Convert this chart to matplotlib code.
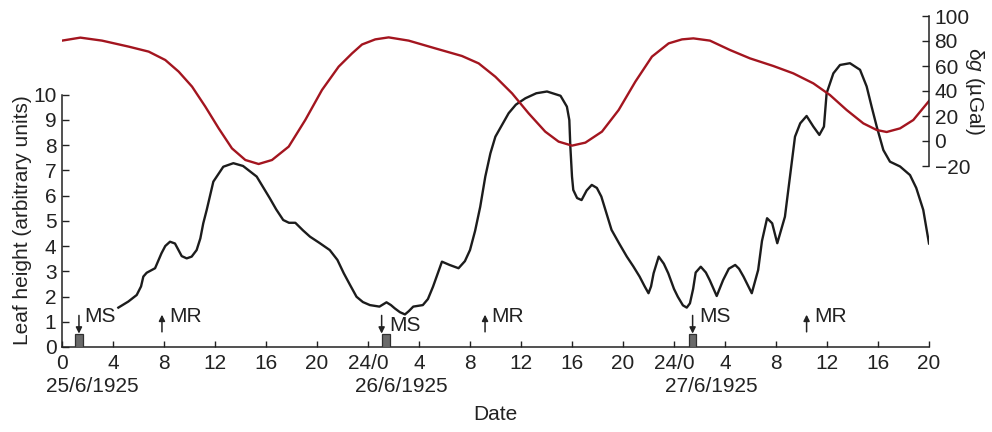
import matplotlib
matplotlib.use("Agg")
import matplotlib.pyplot as plt

plt.rcParams['font.family'] = ['Liberation Sans', 'DejaVu Sans']
plt.rcParams['mathtext.fontset'] = 'custom'
plt.rcParams['mathtext.it'] = 'Liberation Sans:italic'
plt.rcParams['mathtext.rm'] = 'Liberation Sans'

# time axis: hours since 00:00 on 25/6/1925
leaf_hours = [4.42, 5.2, 5.86, 6.2, 6.38, 6.64, 7.3, 7.8, 8.1, 8.47, 8.86, 9.39, 9.78, 10.17,
              10.56, 10.85, 11.08, 11.35, 11.87, 12.65, 13.44, 14.2, 15.27, 16.3, 16.8, 17.35,
              17.8, 18.3, 18.9, 19.45, 20.2, 21.0, 21.6, 22.1, 22.6, 23.1, 23.6, 24.15, 24.9,
              25.45, 25.8, 26.1, 26.5, 26.9, 27.2, 27.55, 28.3, 28.7, 29.1, 29.5, 29.8, 30.4,
              31.1, 31.6, 32.0, 32.4, 32.8, 33.2, 33.6, 33.99, 35.03, 35.6, 36.34, 37.2, 38.04,
              39.1, 39.6, 39.79, 39.87, 40.0, 40.1, 40.4, 40.75, 41.15, 41.55, 41.95, 42.3,
              42.7, 43.1, 43.7, 44.3, 44.8, 45.3, 45.7, 46.0, 46.2, 46.4, 46.8, 47.2, 47.55,
              48.0, 48.3, 48.7, 49.0, 49.25, 49.5, 49.7, 50.1, 50.5, 50.8, 51.35, 51.85, 52.3,
              52.8, 53.1, 53.45, 54.1, 54.6, 54.9, 55.3, 55.7, 56.1, 56.7, 57.1, 57.49, 57.9,
              58.4, 58.93, 59.4, 59.76, 59.97, 60.5, 61.02, 61.8, 62.59, 63.11, 63.5, 63.9,
              64.42, 64.94, 65.73, 66.51, 67.0, 67.55, 68.0]
leaf_height = [1.56, 1.8, 2.06, 2.4, 2.79, 2.94, 3.12, 3.71, 4.0, 4.17, 4.1, 3.6, 3.51, 3.58,
               3.84, 4.3, 4.9, 5.43, 6.55, 7.14, 7.28, 7.17, 6.75, 5.89, 5.45, 5.03,
               4.92, 4.92, 4.62, 4.37, 4.12, 3.84, 3.45, 2.92, 2.45, 1.99, 1.78, 1.66, 1.6,
               1.77, 1.66, 1.53, 1.38, 1.29, 1.42, 1.6, 1.66, 1.9, 2.39, 2.95, 3.38, 3.25,
               3.12, 3.4, 3.84, 4.6, 5.55, 6.75, 7.67, 8.33, 9.26, 9.6, 9.85, 10.05, 10.12,
               9.95, 9.52, 8.99, 7.94, 6.75, 6.22, 5.9, 5.82, 6.2, 6.42, 6.3, 5.96,
               5.3, 4.64, 4.1, 3.58, 3.2, 2.79, 2.4, 2.13, 2.4, 2.92, 3.58, 3.3, 2.92,
               2.3, 1.99, 1.65, 1.56, 1.73, 2.3, 2.95, 3.18, 2.95, 2.65, 2.02, 2.65, 3.1,
               3.25, 3.1, 2.79, 2.13, 3.05, 4.2, 5.1, 4.9, 4.11, 5.16, 6.75, 8.33, 8.86,
               9.15, 8.73, 8.4, 8.73, 10.05, 10.84, 11.17, 11.24, 10.98, 10.32, 9.52, 8.73,
               7.8, 7.34, 7.15, 6.81, 6.3, 5.43, 4.1]

grav_hours = [0, 1.44, 3.14, 5.23, 6.8, 8.1, 9.15, 10.2, 11.24, 12.29, 13.33, 14.38, 15.42,
              16.47, 17.78, 19.08, 20.39, 21.7, 22.75, 23.53, 24.57, 25.62, 27.19, 29.28,
              31.37, 32.68, 33.99, 35.3, 36.6, 37.9, 38.95, 40.0, 41.05, 42.35, 43.66, 44.97,
              46.27, 47.58, 48.63, 49.52, 50.82, 52.39, 53.96, 55.79, 57.36, 58.93, 60.23,
              61.54, 62.85, 63.9, 64.68, 65.73, 66.77, 68.0]
delta_g = [80.3, 82.7, 80.3, 75.5, 71.5, 64.8, 55.5, 43.5, 27.5, 10.1, -5.9, -15.2, -18.4,
           -15.2, -4.5, 16.8, 40.8, 59.5, 70.1, 77.2, 81.3, 82.9, 80.3, 74.1,
           68.0, 62.1, 51.4, 38.1, 22.1, 7.5, -0.5, -3.7, -1.3, 7.5, 24.8, 47.5,
           67.5, 78.1, 81.3, 82.1, 80.3, 72.8, 66.1, 60.0, 54.1, 46.1, 36.8,
           24.8, 14.1, 8.8, 7.2, 10.1, 16.8, 32.0]

# moon set (MS) and moon rise (MR) times
ms_bar_hours = [1.33, 25.4, 49.45]
ms_arrow_hours = [1.33, 25.07, 49.46]
ms_text = [(1.73, 1.19), (25.7, 0.85), (50.0, 1.19)]
mr_arrow_hours = [7.84, 33.18, 58.4]
mr_text = [(8.4, 1.19), (33.7, 1.19), (59.0, 1.19)]

tick_hours = list(range(0, 69, 4))
tick_labels = ['24/0' if h in (24, 48) else str(h % 24) for h in tick_hours]
dates = ['25/6/1925', '26/6/1925', '27/6/1925']
date_hours = [2.4, 26.6, 50.9]

fs = 15
ink = '#222222'
fig = plt.figure(figsize=(9.92, 4.32), dpi=100)
ax = fig.add_axes([62 / 992, 85 / 432, 867 / 992, 331 / 432])
ax2 = ax.twinx()

ax.set_xlim(0, 68)
ax.set_ylim(0, 13.11)
ax2.set_ylim(-164.8, 100)

ax.plot(leaf_hours, leaf_height, color='#1c1c1c', lw=1.7, solid_joinstyle='round', zorder=3)
ax2.plot(grav_hours, delta_g, color='#a3151f', lw=1.7, solid_joinstyle='round')

ax.bar(ms_bar_hours, [0.5] * 3, width=0.6, color='#6a6a6a', edgecolor='#303030', lw=0.9, zorder=4)
for x in ms_arrow_hours:
    ax.annotate('', xy=(x, 0.53), xytext=(x, 1.25),
                arrowprops=dict(arrowstyle='-|>', color=ink, lw=1.1,
                                mutation_scale=9, shrinkA=0, shrinkB=0))
for x in mr_arrow_hours:
    ax.annotate('', xy=(x, 1.28), xytext=(x, 0.6),
                arrowprops=dict(arrowstyle='-|>', color=ink, lw=1.1,
                                mutation_scale=9, shrinkA=0, shrinkB=0))
for x, y in ms_text:
    ax.text(x, y, 'MS', ha='left', va='center', fontsize=fs, color=ink)
for x, y in mr_text:
    ax.text(x, y, 'MR', ha='left', va='center', fontsize=fs, color=ink)

for s in ['top', 'right']:
    ax.spines[s].set_visible(False)
for s in ['top', 'left', 'bottom']:
    ax2.spines[s].set_visible(False)
ax.spines['left'].set_bounds(0, 10)
ax2.spines['right'].set_bounds(-20, 100)
for sp in (ax.spines['left'], ax.spines['bottom'], ax2.spines['right']):
    sp.set_linewidth(1.1)
    sp.set_color(ink)

ax.set_xticks(tick_hours)
ax.set_xticklabels(tick_labels)
ax.set_yticks(range(0, 11))
ax2.set_yticks(range(-20, 101, 20))
ax.tick_params(axis='x', direction='in', length=4, width=1.0, pad=5, labelsize=fs, colors=ink)
ax.tick_params(axis='y', direction='in', length=5, width=1.0, pad=4, labelsize=fs, colors=ink)
ax2.tick_params(axis='y', direction='in', length=5, width=1.0, pad=4, labelsize=fs, colors=ink)

for d, h in zip(dates, date_hours):
    ax.text(h, -0.118, d, transform=ax.get_xaxis_transform(), ha='center', va='center',
            fontsize=fs, color=ink)

ax.set_xlabel('Date', fontsize=fs, color=ink, va='center')
ax.xaxis.set_label_coords(0.5, -0.205)
ax.set_ylabel('Leaf height (arbitrary units)', fontsize=fs, color=ink, va='center')
ax.yaxis.set_label_coords(-0.046, 0.384)
ax2.set_ylabel(r'δ$\mathit{g}$ (µGal)', fontsize=fs, color=ink, rotation=270, va='center')
ax2.yaxis.set_label_coords(1.053, 0.773)

fig.savefig('out.png', dpi=100)
